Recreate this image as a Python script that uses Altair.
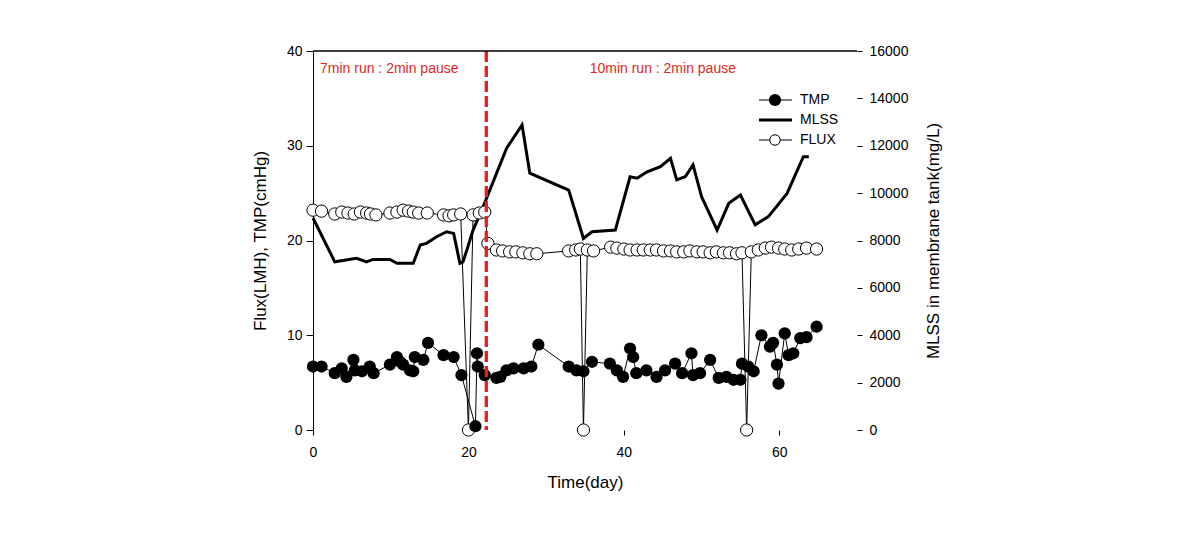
import altair as alt
import pandas as pd

# ---- data ----
mlss_day = [0.0, 2.8, 5.6, 6.9, 7.7, 9.9, 10.8, 12.9, 13.8, 14.6, 15.9, 17.2, 18.1, 18.9, 19.3, 19.8,
            20.6, 21.9, 24.9, 26.9, 27.9, 32.9, 34.8, 35.9, 38.9, 40.8, 41.7, 43.0, 44.7, 46.0, 46.8,
            47.9, 48.9, 50.0, 52.0, 53.5, 55.0, 56.9, 58.6, 61.0, 63.1, 63.8]
mlss_val = [8950, 7100, 7250, 7100, 7200, 7200, 7040, 7040, 7810, 7880, 8160, 8370, 8300, 7040, 7100, 7600,
            8440, 9430, 11890, 12880, 10840, 10130, 8090, 8370, 8440, 10690, 10630, 10900, 11120, 11470, 10560,
            10690, 11190, 9850, 8440, 9570, 9920, 8660, 9010, 9990, 11540, 11540]

tmp_day = [0.0, 1.1, 2.8, 3.7, 4.3, 5.2, 5.4, 6.3, 7.3, 7.8, 9.9, 10.8, 11.2, 11.6, 12.5, 12.9, 13.1, 14.2,
           14.8, 16.8, 18.1, 19.1, 20.9, 21.1, 21.2, 22.1, 23.6, 24.1, 24.9, 25.8, 27.1, 28.1, 29.0, 32.9,
           33.9, 34.8, 35.9, 38.2, 39.1, 39.9, 40.8, 41.2, 41.6, 42.9, 44.2, 45.3, 46.6, 47.5, 48.7, 48.9,
           49.8, 51.1, 52.2, 53.2, 54.1, 55.0, 55.2, 56.0, 56.7, 57.7, 58.8, 59.2, 59.7, 59.9, 60.7, 61.2,
           61.8, 62.7, 63.5, 64.8]
tmp_val = [6.7, 6.7, 6.0, 6.5, 5.6, 7.4, 6.3, 6.2, 6.7, 6.0, 6.9, 7.7, 7.2, 6.9, 6.3, 6.2, 7.7, 7.4,
           9.2, 7.9, 7.7, 5.8, 0.4, 8.1, 6.7, 5.8, 5.5, 5.6, 6.3, 6.5, 6.5, 6.7, 9.0, 6.7,
           6.3, 6.2, 7.2, 7.0, 6.3, 5.6, 8.6, 7.7, 6.0, 6.3, 5.6, 6.3, 7.0, 6.0, 8.1, 5.8,
           6.0, 7.4, 5.5, 5.6, 5.3, 5.3, 7.0, 6.7, 6.2, 10.0, 8.8, 9.2, 6.9, 4.9, 10.2, 7.9,
           8.1, 9.7, 9.8, 10.9]

flux_day = [0.0, 1.1, 2.8, 3.7, 4.5, 5.3, 6.1, 6.9, 7.4, 8.1, 9.9, 10.8, 11.6, 12.3, 12.9, 13.6, 14.7,
            16.8, 17.5, 18.1, 19.0, 20.0, 20.6, 21.4, 22.1, 22.5, 23.6, 24.4, 25.3, 26.1, 27.0, 27.9,
            28.8, 32.9, 33.8, 34.4, 34.8, 35.3, 36.1, 38.3, 39.1, 40.0, 40.8, 41.7, 42.5, 43.4, 44.2,
            45.1, 46.0, 46.8, 47.7, 48.5, 49.4, 50.2, 51.1, 51.9, 52.8, 53.6, 54.5, 55.2, 55.8, 56.4,
            57.3, 58.2, 59.0, 59.9, 60.7, 61.6, 62.5, 63.5, 64.8]
flux_val = [23.2, 23.1, 22.8, 23.0, 22.9, 22.8, 23.0, 22.9, 22.8, 22.7, 22.9, 23.0, 23.2, 23.1, 23.0, 22.9, 22.9,
            22.7, 22.6, 22.7, 22.8, 0.0, 22.7, 22.9, 23.0, 19.7, 19.0, 18.9, 18.8, 18.8, 18.7, 18.6,
            18.6, 18.9, 19.0, 19.1, 0.0, 19.0, 18.9, 19.3, 19.2, 19.1, 19.0, 19.0, 19.0, 19.0, 19.0,
            18.9, 18.9, 18.8, 18.8, 18.9, 18.8, 18.8, 18.7, 18.8, 18.7, 18.7, 18.6, 18.7, 0.0, 18.8,
            19.0, 19.2, 19.3, 19.2, 19.1, 19.0, 19.1, 19.2, 19.1]

switch_day = 22.3
note_day = [0.9, 35.6]
note_val = [38.1, 38.1]
note_text = ["7min run : 2min pause", "10min run : 2min pause"]

RED = "#e41f26"
FONT = "Liberation Sans"

mlss_df = pd.DataFrame({"day": mlss_day, "mlss": mlss_val})
tmp_df = pd.DataFrame({"day": tmp_day, "val": tmp_val})
flux_df = pd.DataFrame({"day": flux_day, "val": flux_val})
note_df = pd.DataFrame({"day": note_day, "val": note_val, "label": note_text})

x_axis = alt.Axis(values=[0, 20, 40, 60], title="Time(day)", domain=False, tickSize=5,
                  labelPadding=10, titlePadding=15, grid=False, format="d", labelFlush=False)
X = alt.X("day:Q", scale=alt.Scale(domain=[0, 70], nice=False, zero=False), axis=x_axis)

y_axis = alt.Axis(values=[0, 10, 20, 30, 40], title="Flux(LMH), TMP(cmHg)", tickSize=7,
                  labelPadding=4, titlePadding=17, grid=False, domain=True, labelFlush=False)
Y = alt.Y("val:Q", scale=alt.Scale(domain=[0, 40], nice=False), axis=y_axis)

base_tmp = alt.Chart(tmp_df)
tmp_line = base_tmp.mark_line(color="black", strokeWidth=1).encode(x=X, y=Y)
tmp_pts = base_tmp.mark_circle(color="black", opacity=1, size=150).encode(x=X, y=Y)

base_flux = alt.Chart(flux_df)
flux_line = base_flux.mark_line(color="black", strokeWidth=1).encode(x=X, y=Y)
flux_pts = base_flux.mark_point(shape="circle", filled=True, fill="white", stroke="black",
                                strokeWidth=1, opacity=1, size=150).encode(x=X, y=Y)

notes = alt.Chart(note_df).mark_text(align="left", baseline="middle", color=RED, fontSize=14,
                                     font=FONT).encode(x=X, y=Y, text="label:N")

top_rule = alt.Chart(note_df).mark_rule(color="black", strokeWidth=1).encode(
    y=alt.value(0), x=alt.value(0), x2=alt.value(544))

red_rule = alt.Chart(note_df).mark_rule(color=RED, strokeWidth=3, strokeDash=[11, 4]).encode(
    x=alt.datum(switch_day), y=alt.value(0), y2=alt.value(379))

mlss_line = alt.Chart(mlss_df).mark_line(color="black", strokeWidth=3).encode(
    x=X,
    y=alt.Y("mlss:Q", scale=alt.Scale(domain=[0, 16000], nice=False),
            axis=alt.Axis(orient="right", values=list(range(0, 16001, 2000)), format="d",
                          title="MLSS in membrane tank(mg/L)", titleAngle=270, labelFlush=False,
                          domain=False, tickSize=5, labelPadding=7, titlePadding=35, grid=False)),
)

# ---- manual legend ----
leg_df = pd.DataFrame({"k": [0]})
lx0, lx1, lxc = 446, 479, 462
leg = [
    alt.Chart(leg_df).mark_rule(color="black", strokeWidth=1).encode(
        x=alt.value(lx0), x2=alt.value(lx1), y=alt.value(49)),
    alt.Chart(leg_df).mark_circle(color="black", opacity=1, size=150).encode(
        x=alt.value(lxc), y=alt.value(49)),
    alt.Chart(leg_df).mark_rule(color="black", strokeWidth=3).encode(
        x=alt.value(lx0), x2=alt.value(lx1), y=alt.value(69)),
    alt.Chart(leg_df).mark_rule(color="black", strokeWidth=1).encode(
        x=alt.value(lx0), x2=alt.value(lx1), y=alt.value(89)),
    alt.Chart(leg_df).mark_point(shape="circle", filled=True, fill="white", stroke="black",
                                 strokeWidth=1, opacity=1, size=110).encode(
        x=alt.value(lxc), y=alt.value(89)),
    alt.Chart(pd.DataFrame({"t": ["TMP", "MLSS", " FLUX"], "yy": [49, 69, 89]}))
    .mark_text(align="left", baseline="middle", fontSize=14, font=FONT, color="black", dx=487)
    .encode(x=alt.value(0), y=alt.Y("yy:Q", scale=None), text="t:N"),
]

left = alt.layer(flux_line, tmp_line, flux_pts, tmp_pts, notes)
chart = (
    alt.layer(mlss_line, left, red_rule, top_rule, *leg)
    .resolve_scale(y="independent")
    .properties(width=544, height=379,
                autosize=alt.AutoSizeParams(type="none"),
                padding={"left": 305, "top": 43, "right": 150, "bottom": 70})
    .configure_view(stroke=None)
    .configure_axis(labelFont=FONT, titleFont=FONT, labelFontSize=14, titleFontSize=17,
                    labelColor="black", titleColor="black", tickColor="black", domainColor="black",
                    titleFontWeight="normal")
)

chart.save("out.html", embed_options={"renderer": "svg", "actions": False})
